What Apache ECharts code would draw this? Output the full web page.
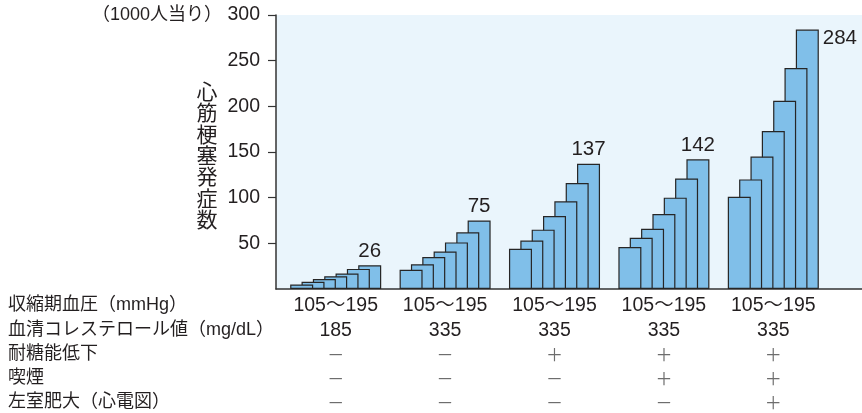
<!DOCTYPE html>
<html>
<head>
<meta charset="utf-8">
<script src="https://cdn.jsdelivr.net/npm/echarts@6/dist/echarts.min.js"></script>
<style>
  html, body { margin: 0; padding: 0; background: #ffffff; }
  #chart { width: 862px; height: 413px; }
</style>
</head>
<body>
<div id="chart"></div>
<script>
// Myocardial infarction incidence (per 1000) — seven bars per risk profile,
// rising with systolic blood pressure from 105 to 195 mmHg.
const profiles = ['A', 'B', 'C', 'D', 'E'];
const profileA = [5, 8, 11, 14, 17, 22, 26];
const profileB = [21, 27, 35, 41, 51, 62, 75];
const profileC = [44, 53, 65, 80, 96, 116, 137];
const profileD = [46, 56, 66, 82, 100, 121, 142];
const profileE = [101, 120, 145, 173, 206, 242, 284];

// Risk factor table under the bars
const rowLabels = ['収縮期血圧（mmHg）', '血清コレステロール値（mg/dL）', '耐糖能低下', '喫煙', '左室肥大（心電図）'];
const sbpRange = ['105～195', '105～195', '105～195', '105～195', '105～195'];
const cholesterol = ['185', '335', '335', '335', '335'];
const glucoseIntol = ['－', '－', '＋', '＋', '＋'];
const smoking = ['－', '－', '－', '＋', '＋'];
const lvh = ['－', '－', '－', '－', '＋'];

const yTicks = [50, 100, 150, 200, 250, 300];

const groups = [profileA, profileB, profileC, profileD, profileE];
const LATIN = '"Liberation Sans", "Noto Sans CJK JP", sans-serif';
const CJK = '"Noto Sans CJK JP", sans-serif';
const TEXT = '#231f20';
const ROW_H = 24.2;

const series = [];
for (let i = 0; i < 7; i++) {
  const last = i === 6;
  series.push({
    type: 'bar',
    xAxisIndex: 0,
    yAxisIndex: 0,
    barWidth: 23,
    barGap: '-50.7%',
    z: 2 + (6 - i),
    itemStyle: { color: '#80bfe9', borderColor: '#262626', borderWidth: 1.2 },
    label: {
      show: last,
      position: 'top',
      distance: 4,
      formatter: '{c}',
      fontFamily: LATIN,
      fontSize: 20.5,
      color: TEXT
    },
    data: groups.map((g, gi) => {
      if (last && gi === groups.length - 1) {
        return {
          value: g[i],
          label: { position: ['100%', 0], offset: [4, -2], align: 'left', verticalAlign: 'top' }
        };
      }
      return g[i];
    })
  });
}

const chart = echarts.init(document.getElementById('chart'), null, { renderer: 'canvas' });

chart.setOption({
  animation: false,
  backgroundColor: '#ffffff',
  grid: [
    { left: 281, right: 34, top: 15, bottom: 124 },
    { left: 276, right: 0, top: 15, bottom: 124, show: true, backgroundColor: '#eaf5fc', borderWidth: 0 }
  ],
  xAxis: [
    {
      type: 'category',
      gridIndex: 0,
      data: profiles,
      axisLine: { show: false },
      axisTick: { show: false },
      axisLabel: {
        margin: 5,
        interval: 0,
        formatter: (v, idx) => [
          '{n|' + sbpRange[idx] + '}',
          '{n|' + cholesterol[idx] + '}',
          '{s|' + glucoseIntol[idx] + '}',
          '{s|' + smoking[idx] + '}',
          '{s|' + lvh[idx] + '}'
        ].join('\n'),
        rich: {
          n: { fontFamily: LATIN, fontSize: 19.5, color: TEXT, lineHeight: ROW_H },
          s: { fontFamily: CJK, fontSize: 17, color: '#6d6d6d', lineHeight: ROW_H }
        }
      }
    },
    {
      type: 'value',
      gridIndex: 1,
      min: 0,
      max: 1,
      axisLine: { show: true, lineStyle: { color: '#333333', width: 1.5 } },
      axisTick: { show: false },
      axisLabel: { show: false },
      splitLine: { show: false }
    }
  ],
  yAxis: [
    { type: 'value', gridIndex: 0, min: 0, max: 300, show: false },
    {
      type: 'value',
      gridIndex: 1,
      min: 0,
      max: 300,
      interval: 50,
      axisLine: { show: true, lineStyle: { color: '#333333', width: 1.5 } },
      axisTick: { show: true, length: 8, customValues: yTicks, lineStyle: { color: '#333333', width: 1.2 } },
      axisLabel: {
        customValues: yTicks,
        margin: 16,
        fontFamily: LATIN,
        fontSize: 19.5,
        color: TEXT
      },
      splitLine: { show: false }
    }
  ],
  graphic: [
    {
      type: 'text',
      x: 222,
      y: 15,
      style: { text: '（1000人当り）', fontFamily: LATIN, fontSize: 18, fill: TEXT, align: 'right', verticalAlign: 'middle' }
    },
    {
      type: 'text',
      x: 207,
      y: 155,
      style: {
        text: '心筋梗塞発症数'.split('').join('\n'),
        fontFamily: CJK,
        fontSize: 21,
        lineHeight: 21.4,
        fill: TEXT,
        align: 'center',
        verticalAlign: 'middle'
      }
    },
    ...rowLabels.map((t, i) => ({
      type: 'text',
      x: 8,
      y: 305.5 + i * ROW_H,
      style: { text: t, fontFamily: LATIN, fontSize: 18, fill: TEXT, align: 'left', verticalAlign: 'middle' }
    }))
  ],
  series: series
});
</script>
</body>
</html>
